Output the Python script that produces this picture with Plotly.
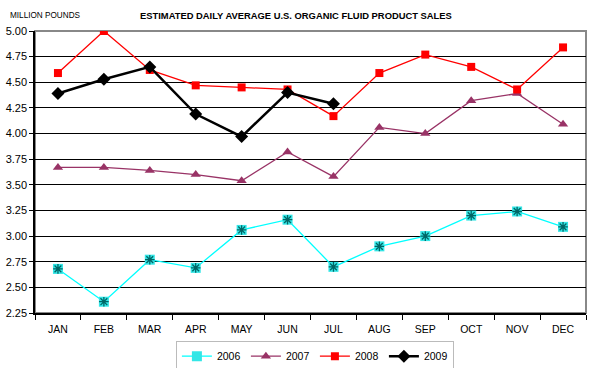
import plotly.graph_objects as go

months = ["JAN","FEB","MAR","APR","MAY","JUN","JUL","AUG","SEP","OCT","NOV","DEC"]
s2006 = [2.68, 2.36, 2.77, 2.69, 3.06, 3.16, 2.70, 2.90, 3.00, 3.20, 3.24, 3.09]
s2007 = [3.67, 3.67, 3.64, 3.60, 3.54, 3.82, 3.58, 4.06, 4.00, 4.32, 4.39, 4.09]
s2008 = [4.59, 5.00, 4.62, 4.47, 4.45, 4.43, 4.17, 4.59, 4.77, 4.65, 4.43, 4.84]
s2009 = [4.39, 4.53, 4.65, 4.19, 3.97, 4.40, 4.29]
yticks = [2.25, 2.50, 2.75, 3.00, 3.25, 3.50, 3.75, 4.00, 4.25, 4.50, 4.75, 5.00]

fig = go.Figure()
fig.add_trace(go.Scatter(x=months, y=s2006, name="2006", mode="lines+markers",
                         line=dict(color="#00FFFF", width=1.3),
                         marker=dict(symbol="square", size=10, color="#33E6E6",
                                     line=dict(width=0))))
fig.add_trace(go.Scatter(x=months, y=s2006, name="2006", mode="markers", showlegend=False,
                         marker=dict(symbol="asterisk-open", size=8, color="#006666",
                                     line=dict(color="#006666", width=1.3))))
fig.add_trace(go.Scatter(x=months, y=s2007, name="2007", mode="lines+markers",
                         line=dict(color="#993366", width=1.3),
                         marker=dict(symbol="triangle-up", size=9, color="#993366")))
fig.add_trace(go.Scatter(x=months, y=s2008, name="2008", mode="lines+markers",
                         line=dict(color="#FF0000", width=1.3),
                         marker=dict(symbol="square", size=8, color="#FF0000")))
fig.add_trace(go.Scatter(x=months[:len(s2009)], y=s2009, name="2009", mode="lines+markers",
                         line=dict(color="#000000", width=2.5),
                         marker=dict(symbol="diamond", size=10, color="#000000")))

fig.update_layout(
    width=600, height=368,
    margin=dict(l=35, r=14, t=31, b=55, autoexpand=False),
    paper_bgcolor="white", plot_bgcolor="white",
    font=dict(family="Liberation Sans, Arial, sans-serif", size=11, color="#000000"),
    showlegend=True,
    legend=dict(orientation="h", x=0.508, xanchor="center", y=-0.098, yanchor="top",
                bordercolor="#BBBBBB", borderwidth=1, font=dict(size=10.5),
                itemwidth=30, tracegroupgap=0, entrywidth=24, entrywidthmode="pixels"),
    shapes=[dict(type="rect", xref="paper", yref="paper", x0=0, x1=1, y0=0, y1=1,
                 line=dict(color="#888888", width=2), layer="below")],
    annotations=[
        dict(text="<b>ESTIMATED DAILY AVERAGE U.S. ORGANIC FLUID PRODUCT SALES</b>",
             xref="paper", yref="paper", x=0.474, y=1.0, yshift=16, xanchor="center",
             yanchor="middle", showarrow=False, font=dict(size=9.4)),
        dict(text="MILLION POUNDS", xref="paper", yref="paper", x=-0.049, y=1.0, yshift=16,
             xanchor="left", yanchor="middle", showarrow=False, font=dict(size=8.2)),
    ],
)
fig.update_xaxes(type="category", categoryorder="array", categoryarray=months,
                 tickson="boundaries", ticks="outside", ticklen=5, tickcolor="#000000",
                 showline=True, linecolor="#000000", linewidth=1.5, showgrid=False,
                 range=[-0.5, 11.5], tickfont=dict(size=10.5), ticklabelstandoff=6)
fig.update_yaxes(range=[2.25, 5.0], tickvals=yticks, tickformat=".2f",
                 ticks="outside", ticklen=4, tickcolor="#000000",
                 showline=True, linecolor="#000000", linewidth=1.5,
                 showgrid=True, gridcolor="#000000", gridwidth=1, zeroline=False,
                 tickfont=dict(size=11))

fig.write_html("out.html", config={"displayModeBar": False},
               post_script="document.body.style.margin='0';document.body.style.overflow='hidden';")
